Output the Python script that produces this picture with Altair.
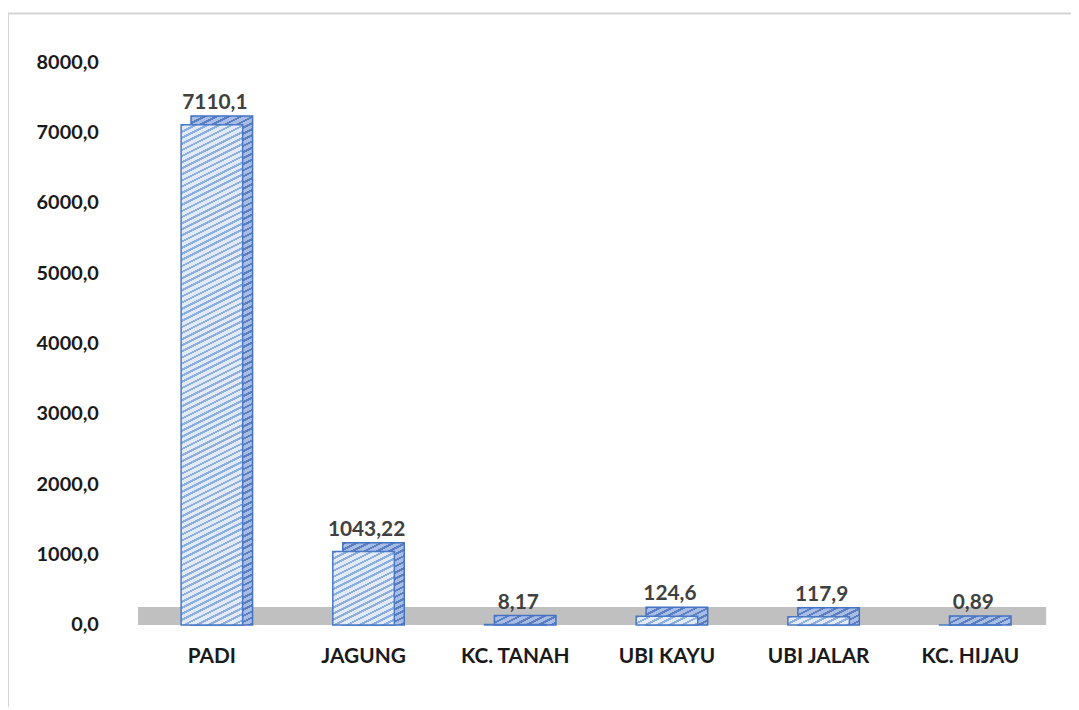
import math
import altair as alt
import pandas as pd

categories = ["PADI", "JAGUNG", "KC. TANAH", "UBI KAYU", "UBI JALAR", "KC. HIJAU"]
values = [7110.1, 1043.22, 8.17, 124.6, 117.9, 0.89]
value_labels = ["7110,1", "1043,22", "8,17", "124,6", "117,9", "0,89"]
y_ticks = [0, 1000, 2000, 3000, 4000, 5000, 6000, 7000, 8000]

df = pd.DataFrame({"cat": categories, "val": values, "lbl": value_labels})

W, H = 917, 567
YMAX = 8000
BAR_W = 62
DEPTH_X, DEPTH_Y = 10, 9
FONT = "Lato"

y_scale = alt.Scale(domain=[0, YMAX], nice=False)
x_scale = alt.Scale(domain=categories, paddingInner=0.0, paddingOuter=0.0)

x_enc = alt.X(
    "cat:N", sort=categories, scale=x_scale,
    axis=alt.Axis(title=None, labelAngle=0, labelFont=FONT, labelFontSize=21,
                  labelFontWeight="bold", labelColor="#1a1a1a", labelPadding=21,
                  ticks=False, domain=False, grid=False),
)
y_enc = alt.Y(
    "val:Q", scale=y_scale,
    axis=alt.Axis(title=None, values=y_ticks, labelFont=FONT, labelFontSize=20,
                  labelFontWeight="bold", labelColor="#1a1a1a", labelPadding=38,
                  labelExpr="replace(format(datum.value, '.1f'), '.', ',')",
                  ticks=False, domain=False, grid=False),
)


def stripes(w, h, light, dark, period=5.0, frac=0.38):
    """Diagonal hatch (rising to the right) as a bounding-box linear gradient."""
    h = max(h, 1.0)
    k = 2.0 * h / w
    gx = (1 + k) / (1 + k * k)
    gy = k * gx
    extent = (w + 2 * h) / math.sqrt(5)
    n = max(1.0, extent / period)
    stops = []
    j = 0
    while j / n < 1:
        o0 = j / n
        o1 = min(1.0, (j + frac) / n)
        o2 = min(1.0, (j + 1) / n)
        stops += [alt.GradientStop(offset=o0, color=dark),
                  alt.GradientStop(offset=o1, color=dark),
                  alt.GradientStop(offset=o1, color=light),
                  alt.GradientStop(offset=o2, color=light)]
        j += 1
    return alt.LinearGradient(gradient="linear", x1=0, y1=0, x2=gx, y2=gy, stops=stops)


# floor of the 3D chart (decoration)
floor = alt.Chart(pd.DataFrame({"z": [0]})).mark_rect(
    color="#c0c0c0", yOffset=-18, y2Offset=0
).encode(
    x=alt.value(2), x2=alt.value(W),
    y=alt.datum(0), y2=alt.datum(0),
)

layers = []
for c, v in zip(categories, values):
    sub = df[df["cat"] == c]
    h = v / YMAX * H
    back = alt.Chart(sub).mark_bar(
        size=BAR_W, xOffset=DEPTH_X, yOffset=-DEPTH_Y, y2Offset=0,
        fill=stripes(BAR_W, h + DEPTH_Y, "#a7bde5", "#5a7ec0", period=5.5),
        stroke="#4472c4", strokeWidth=1.5,
    ).encode(x=x_enc, y=y_enc, y2=alt.datum(0))
    layers.append(back)
for c, v in zip(categories, values):
    sub = df[df["cat"] == c]
    h = v / YMAX * H
    front = alt.Chart(sub).mark_bar(
        size=BAR_W,
        fill=stripes(BAR_W, h, "#e0eaf8", "#8eaee0", period=5.5),
        stroke="#4a78c4", strokeWidth=1.5,
    ).encode(x=x_enc, y=y_enc)
    layers.append(front)

labels = alt.Chart(df).mark_text(
    baseline="bottom", dy=-12, dx=3, font=FONT, fontSize=21,
    fontWeight="bold", color="#404040",
).encode(x=x_enc, y=y_enc, text="lbl:N")

frame_left = alt.Chart(pd.DataFrame({"z": [0]})).mark_rule(
    color="#d4d4d4", strokeWidth=2, clip=False
).encode(x=alt.value(-129), y=alt.value(-49), y2=alt.value(655))
frame_top = alt.Chart(pd.DataFrame({"z": [0]})).mark_rule(
    color="#d4d4d4", strokeWidth=2, clip=False
).encode(y=alt.value(-49), x=alt.value(-129), x2=alt.value(945))

chart = alt.layer(frame_left, frame_top, floor, *layers, labels).properties(
    width=W, height=H,
    autosize=alt.AutoSizeParams(type="none"),
    padding={"left": 129, "top": 52, "right": 25, "bottom": 80},
    background="white",
).configure_view(stroke=None)

chart.save("out.html", embed_options={"renderer": "svg", "actions": False})
